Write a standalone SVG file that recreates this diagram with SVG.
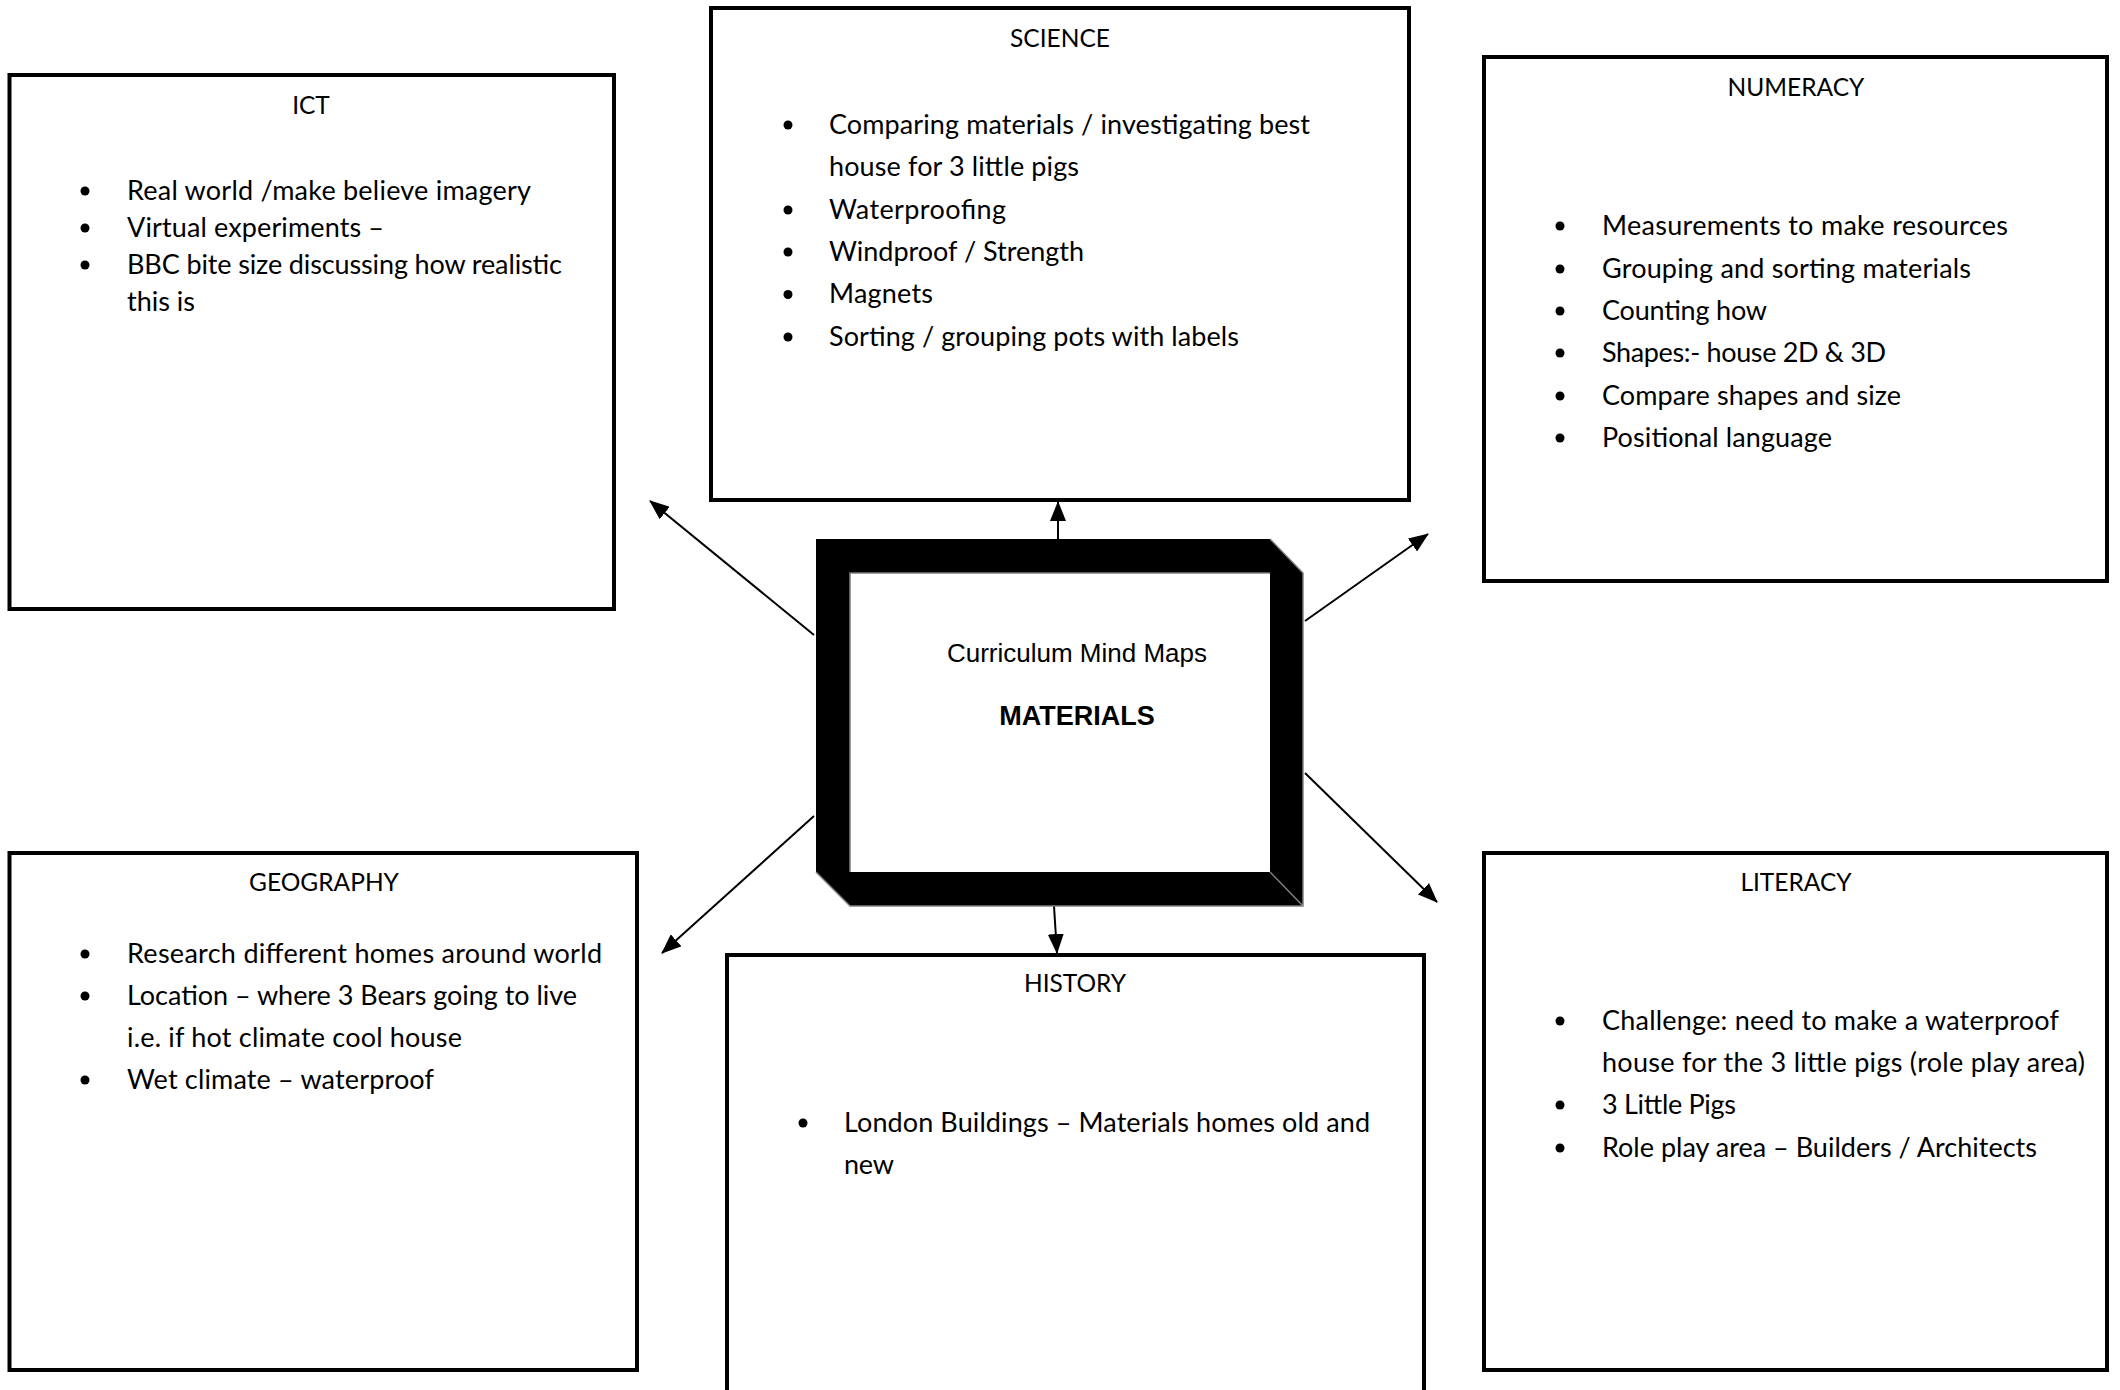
<svg xmlns="http://www.w3.org/2000/svg" width="2120" height="1390" viewBox="0 0 2120 1390">
<defs>
<style>
.box{fill:#fff;stroke:#000;stroke-width:4}
.t{font-family:Lato,"Liberation Sans",sans-serif;font-size:27px;fill:#000}
.h{font-family:Lato,"Liberation Sans",sans-serif;font-size:24.5px;fill:#000;text-anchor:middle}
.b{fill:#000}
.c{stroke:#000;stroke-width:2;fill:none;marker-end:url(#ah)}
.g{stroke:#7f7f7f;stroke-width:1.5;fill:none}
</style>
<marker id="ah" viewBox="0 0 20 16" markerWidth="20" markerHeight="16" refX="19" refY="8" orient="auto" markerUnits="userSpaceOnUse">
<path d="M0,0 L20,8 L0,16 Z" fill="#000"/>
</marker>
</defs>
<rect width="2120" height="1390" fill="#fff"/>

<g id="connectors">
<line class="c" x1="814" y1="635" x2="650" y2="501"/>
<line class="c" x1="1058" y1="539" x2="1058" y2="502"/>
<line class="c" x1="1305" y1="621" x2="1428" y2="534"/>
<line class="c" x1="1305" y1="773" x2="1437" y2="902"/>
<line class="c" x1="814" y1="816" x2="662" y2="953"/>
<line class="c" x1="1054" y1="906" x2="1057" y2="953"/>
</g>

<g id="center">
<path d="M816,539 L1270,539 L1303,573 L1303,906 L850,906 L816,872 Z" fill="#000"/>
<rect x="850" y="573" width="420" height="299" fill="#fff"/>
<path class="g" d="M850,872 L850,573 L1270,573 M1270,539 L1303,573 L1303,906 L850,906 L816,872 M1270,872 L1303,906"/>
<text x="1077" y="662" font-family="'Liberation Sans',Arial,sans-serif" font-size="26" text-anchor="middle">Curriculum Mind Maps</text>
<text x="1077" y="725" font-family="'Liberation Sans',Arial,sans-serif" font-size="27" font-weight="bold" text-anchor="middle">MATERIALS</text>
</g>

<g id="ict">
<rect class="box" x="9.5" y="75" width="604.5" height="534"/>
<text class="h" x="311" y="114">ICT</text>
<circle class="b" cx="85" cy="191" r="4.5"/>
<circle class="b" cx="85" cy="228" r="4.5"/>
<circle class="b" cx="85" cy="265" r="4.5"/>
<text class="t" x="127" y="199.5" textLength="404" lengthAdjust="spacing">Real world /make believe imagery</text>
<text class="t" x="127" y="236.5" textLength="257" lengthAdjust="spacing">Virtual experiments –</text>
<text class="t" x="127" y="273.5" textLength="435" lengthAdjust="spacing">BBC bite size discussing how realistic</text>
<text class="t" x="127" y="310.5" textLength="68" lengthAdjust="spacing">this is</text>
</g>

<g id="science">
<rect class="box" x="711" y="8" width="698" height="492"/>
<text class="h" x="1060" y="47">SCIENCE</text>
<circle class="b" cx="788" cy="125" r="4.5"/>
<circle class="b" cx="788" cy="210" r="4.5"/>
<circle class="b" cx="788" cy="252" r="4.5"/>
<circle class="b" cx="788" cy="294.5" r="4.5"/>
<circle class="b" cx="788" cy="337" r="4.5"/>
<text class="t" x="829" y="133.5" textLength="481" lengthAdjust="spacing">Comparing materials / investigating best</text>
<text class="t" x="829" y="176" textLength="250" lengthAdjust="spacing">house for 3 little pigs</text>
<text class="t" x="829" y="218.5" textLength="177" lengthAdjust="spacing">Waterproofing</text>
<text class="t" x="829" y="260.5" textLength="255" lengthAdjust="spacing">Windproof / Strength</text>
<text class="t" x="829" y="303" textLength="104" lengthAdjust="spacing">Magnets</text>
<text class="t" x="829" y="345.5" textLength="410" lengthAdjust="spacing">Sorting / grouping pots with labels</text>
</g>

<g id="numeracy">
<rect class="box" x="1484" y="57" width="623" height="524"/>
<text class="h" x="1796" y="96">NUMERACY</text>
<circle class="b" cx="1560" cy="226" r="4.5"/>
<circle class="b" cx="1560" cy="269" r="4.5"/>
<circle class="b" cx="1560" cy="311" r="4.5"/>
<circle class="b" cx="1560" cy="353" r="4.5"/>
<circle class="b" cx="1560" cy="396" r="4.5"/>
<circle class="b" cx="1560" cy="438" r="4.5"/>
<text class="t" x="1602" y="234.5" textLength="406" lengthAdjust="spacing">Measurements to make resources</text>
<text class="t" x="1602" y="277.5" textLength="369" lengthAdjust="spacing">Grouping and sorting materials</text>
<text class="t" x="1602" y="319.5" textLength="165" lengthAdjust="spacing">Counting how</text>
<text class="t" x="1602" y="361.5" textLength="284" lengthAdjust="spacing">Shapes:- house 2D &amp; 3D</text>
<text class="t" x="1602" y="404.5" textLength="299" lengthAdjust="spacing">Compare shapes and size</text>
<text class="t" x="1602" y="446.5" textLength="230" lengthAdjust="spacing">Positional language</text>
</g>

<g id="geography">
<rect class="box" x="9.5" y="853" width="627.5" height="517"/>
<text class="h" x="324" y="891">GEOGRAPHY</text>
<circle class="b" cx="85" cy="954" r="4.5"/>
<circle class="b" cx="85" cy="996" r="4.5"/>
<circle class="b" cx="85" cy="1080" r="4.5"/>
<text class="t" x="127" y="962.5" textLength="475" lengthAdjust="spacing">Research different homes around world</text>
<text class="t" x="127" y="1004.5" textLength="450" lengthAdjust="spacing">Location – where 3 Bears going to live</text>
<text class="t" x="127" y="1046.5" textLength="335" lengthAdjust="spacing">i.e. if hot climate cool house</text>
<text class="t" x="127" y="1088.5" textLength="307" lengthAdjust="spacing">Wet climate – waterproof</text>
</g>

<g id="history">
<rect class="box" x="727" y="955" width="697" height="470"/>
<text class="h" x="1075" y="992">HISTORY</text>
<circle class="b" cx="803" cy="1123" r="4.5"/>
<text class="t" x="844" y="1131.5" textLength="526" lengthAdjust="spacing">London Buildings – Materials homes old and</text>
<text class="t" x="844" y="1173.5" textLength="50" lengthAdjust="spacing">new</text>
</g>

<g id="literacy">
<rect class="box" x="1484" y="853" width="623" height="517"/>
<text class="h" x="1796" y="891">LITERACY</text>
<circle class="b" cx="1560" cy="1021" r="4.5"/>
<circle class="b" cx="1560" cy="1105" r="4.5"/>
<circle class="b" cx="1560" cy="1148" r="4.5"/>
<text class="t" x="1602" y="1029.5" textLength="457" lengthAdjust="spacing">Challenge: need to make a waterproof</text>
<text class="t" x="1602" y="1071.5" textLength="483" lengthAdjust="spacing">house for the 3 little pigs (role play area)</text>
<text class="t" x="1602" y="1113.5" textLength="134" lengthAdjust="spacing">3 Little Pigs</text>
<text class="t" x="1602" y="1156.5" textLength="435" lengthAdjust="spacing">Role play area – Builders / Architects</text>
</g>
</svg>
